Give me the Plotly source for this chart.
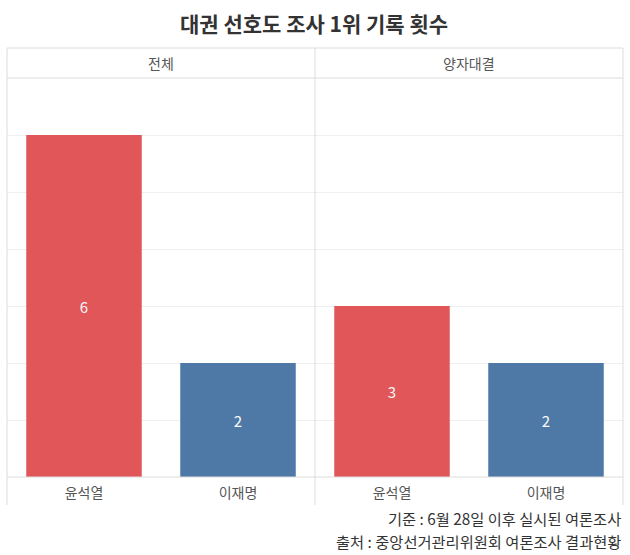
import plotly.graph_objects as go
from plotly.subplots import make_subplots

title = "대권 선호도 조사 1위 기록 횟수"
panels = ["전체", "양자대결"]
candidates = ["윤석열", "이재명"]
values_total = [6, 2]
values_h2h = [3, 2]
bar_colors = ["#E15759", "#4E79A7"]
notes = ["기준 : 6월 28일 이후 실시된 여론조사", "출처 : 중앙선거관리위원회 여론조사 결과현황"]

FONT = "Noto Sans CJK KR"
W, H = 630, 555
ML, MR, MT, MB = 7, 7, 78, 78

fig = make_subplots(rows=1, cols=2, horizontal_spacing=0, shared_yaxes=True)
for i, vals in enumerate([values_total, values_h2h]):
    fig.add_trace(go.Bar(
        x=candidates, y=vals, marker=dict(color=bar_colors, line=dict(width=0)),
        width=0.75, text=[str(v) for v in vals], textposition="inside",
        insidetextanchor="middle", textfont=dict(color="#F8F8F8", size=15, family=FONT),
        showlegend=False, hoverinfo="skip"), row=1, col=i + 1)

for ax in ["yaxis", "yaxis2"]:
    fig.layout[ax].update(range=[0, 7], dtick=1, showgrid=True, gridcolor="#EFEFEF",
                          gridwidth=1, showticklabels=False, zeroline=False, showline=False,
                          fixedrange=True)
for ax in ["xaxis", "xaxis2"]:
    fig.layout[ax].update(showgrid=False, showline=False, zeroline=False,
                          tickfont=dict(size=14, color="#555", family=FONT),
                          ticks="", ticklabelstandoff=6)

plot_h = H - MT - MB
plot_w = W - ML - MR
hdr = 30 / plot_h
bot_ext = 28 / plot_h
line_col = "#DCDCDC"
shapes = []
shapes.append(dict(type="line", xref="paper", yref="paper", x0=0, x1=1, y0=1 + hdr, y1=1 + hdr,
                   line=dict(color=line_col, width=1)))
shapes.append(dict(type="line", xref="paper", yref="paper", x0=0, x1=1, y0=1, y1=1,
                   line=dict(color=line_col, width=1)))
shapes.append(dict(type="line", xref="paper", yref="paper", x0=0, x1=1, y0=0, y1=0,
                   line=dict(color=line_col, width=1)))
for xv in [0, 0.5, 1]:
    shapes.append(dict(type="line", xref="paper", yref="paper", x0=xv, x1=xv, y0=-bot_ext, y1=1 + hdr,
                       line=dict(color=line_col, width=1)))

annotations = []
for i, p in enumerate(panels):
    annotations.append(dict(text=p, xref="paper", yref="paper", x=0.25 + 0.5 * i, y=1 + hdr / 2,
                            showarrow=False, xanchor="center", yanchor="middle",
                            font=dict(size=14, color="#555", family=FONT)))
annotations.append(dict(text="<b>" + title + "</b>", xref="paper", yref="paper",
                        x=(314 - ML) / plot_w,
                        y=1 + (78 - 23) / plot_h, showarrow=False, xanchor="center", yanchor="middle",
                        font=dict(size=21, color="#333", family=FONT)))
for j, n in enumerate(notes):
    annotations.append(dict(text=n, xref="paper", yref="paper", x=(623 - ML) / plot_w,
                            y=-(518 + 23 * j - (H - MB)) / plot_h, showarrow=False,
                            xanchor="right", yanchor="middle",
                            font=dict(size=15.3, color="#333", family=FONT)))

fig.update_layout(width=W, height=H, margin=dict(l=ML, r=MR, t=MT, b=MB),
                  paper_bgcolor="white", plot_bgcolor="white", shapes=shapes,
                  annotations=annotations, bargap=0.25, font=dict(family=FONT))
fig.write_html("out.html")
